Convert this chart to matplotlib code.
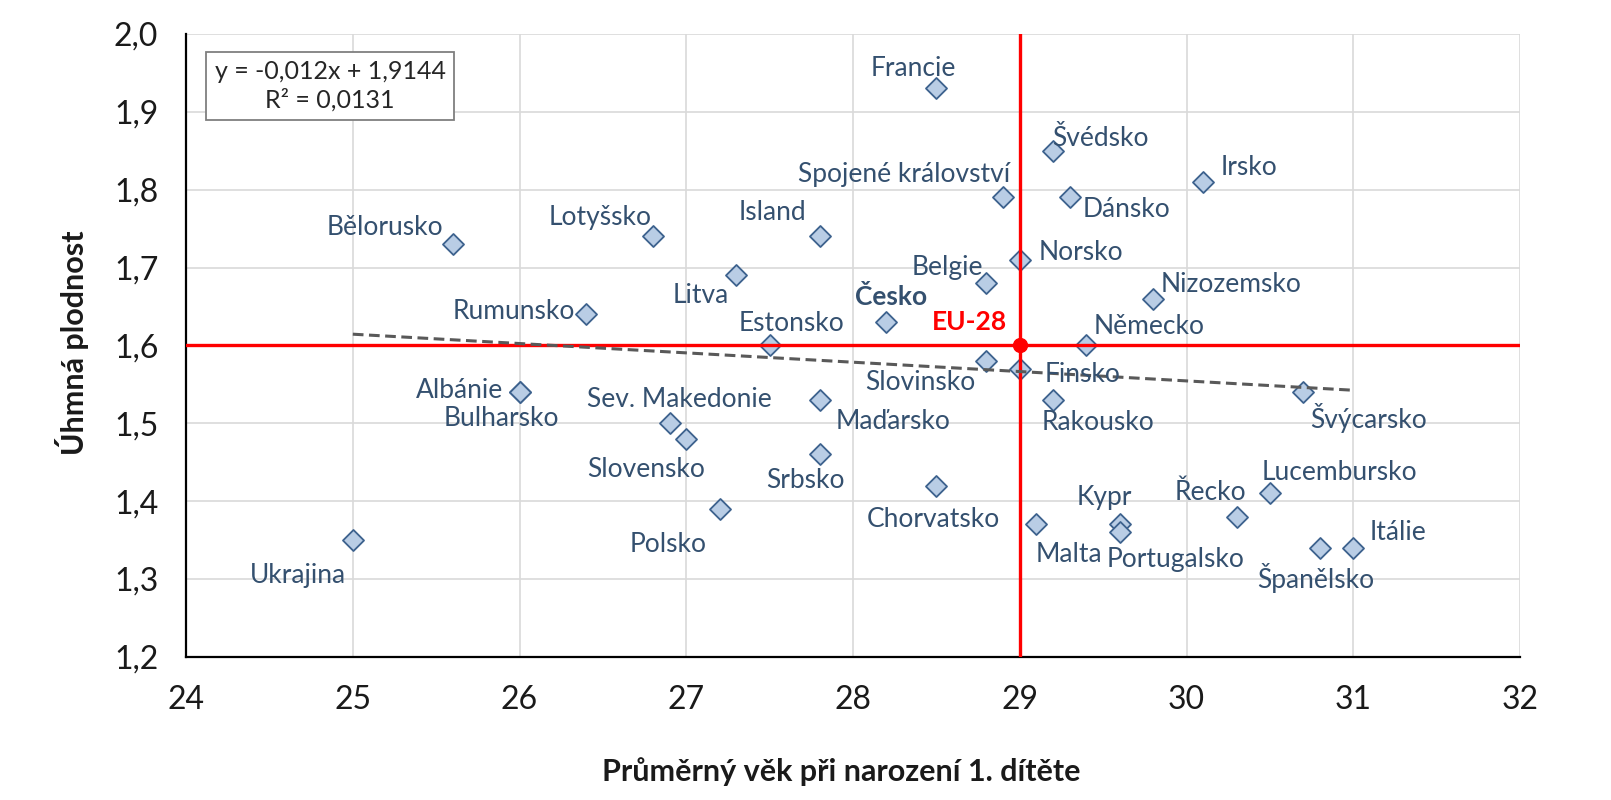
import matplotlib.pyplot as plt
import numpy as np

plt.rcParams['font.family'] = ['Lato', 'DejaVu Sans']

# prumerny vek matky pri narozeni 1. ditete, uhrnna plodnost
countries = ['Francie', 'Švédsko', 'Irsko', 'Spojené království', 'Dánsko',
             'Bělorusko', 'Lotyšsko', 'Island', 'Litva', 'Norsko', 'Belgie',
             'Nizozemsko', 'Rumunsko', 'Česko', 'Estonsko', 'Německo',
             'Slovinsko', 'Finsko', 'Švýcarsko', 'Albánie', 'Bulharsko',
             'Rakousko', 'Sev. Makedonie', 'Slovensko', 'Maďarsko', 'Srbsko',
             'Polsko', 'Chorvatsko', 'Malta', 'Kypr', 'Portugalsko', 'Řecko',
             'Lucembursko', 'Španělsko', 'Itálie', 'Ukrajina']
age = [28.5, 29.2, 30.1, 28.9, 29.3,
       25.6, 26.8, 27.8, 27.3, 29.0, 28.8,
       29.8, 26.4, 28.2, 27.5, 29.4,
       28.8, 29.0, 30.7, 26.0, 26.0,
       29.2, 26.9, 27.0, 27.8, 27.8,
       27.2, 28.5, 29.1, 29.6, 29.6, 30.3,
       30.5, 30.8, 31.0, 25.0]
tfr = [1.93, 1.85, 1.81, 1.79, 1.79,
       1.73, 1.74, 1.74, 1.69, 1.71, 1.68,
       1.66, 1.64, 1.63, 1.60, 1.60,
       1.58, 1.57, 1.54, 1.54, 1.54,
       1.53, 1.50, 1.48, 1.53, 1.46,
       1.39, 1.42, 1.37, 1.37, 1.36, 1.38,
       1.41, 1.34, 1.34, 1.35]

eu_label = 'EU-28'
eu_age = 29.0
eu_tfr = 1.60

# linearni trend (z Excelu)
slope = -0.012
intercept = 1.9144
r2 = 0.0131

# posun popisku v pixelech (dx, dy)
label_offsets = [(-23, 20), (47, 12), (46, 14), (-99, 23), (57, -12),
                 (-68, 17), (-53, 19), (-47, 24), (-36, -20), (61, 7), (-39, 16),
                 (78, 14), (-72, 3), (5, 25), (22, 22), (63, 19),
                 (-66, -22), (63, -6), (65, -26), (-60, 2), (-18, -26),
                 (45, -23), (10, 24), (-40, -31), (73, -22), (-14, -26),
                 (-52, -36), (-3, -34), (33, -30), (-15, 27), (56, -27), (-26, 24),
                 (70, 21), (-4, -30), (45, 15), (-55, -35)]

label_color = '#34506f'

fig = plt.figure(figsize=(16.11, 8), dpi=100)
ax = fig.add_axes([0.1155, 0.179, 0.828, 0.7785])

ax.set_xlim(24, 32)
ax.set_ylim(1.2, 2.0)
ax.set_xticks(np.arange(24, 33, 1))
ax.set_yticks(np.arange(1.2, 2.01, 0.1))
ax.set_yticklabels([f'{v:.1f}'.replace('.', ',') for v in np.arange(1.2, 2.01, 0.1)])
ax.tick_params(axis='both', length=0, labelsize=23, colors='#1a1a1a')
ax.tick_params(axis='y', pad=20)
ax.tick_params(axis='x', pad=20)
ax.grid(True, color='#d9d9d9', linewidth=1.2, zorder=0)
ax.set_axisbelow(True)
for side in ['top', 'right']:
    ax.spines[side].set_visible(False)
for side in ['left', 'bottom']:
    ax.spines[side].set_linewidth(1.6)
    ax.spines[side].set_color('black')

ax.scatter(age, tfr, marker='D', s=115, facecolor='#b9cde5', edgecolor='#3d628e',
           linewidth=1.3, zorder=3)

# EU-28 kriz
ax.axvline(eu_age, color='#ff0000', linewidth=2.4, zorder=4)
ax.axhline(eu_tfr, color='#ff0000', linewidth=2.4, zorder=4)
ax.plot([eu_age], [eu_tfr], 'o', color='#ff0000', markersize=10, zorder=5)

# trend
xt = np.array([min(age), max(age)])
ax.plot(xt, slope * xt + intercept, '--', color='#595959', linewidth=2.2,
        dashes=(3.5, 1.8), zorder=6)

for name, x, y, off in zip(countries, age, tfr, label_offsets):
    weight = 'bold' if name == 'Česko' else 'normal'
    ax.annotate(name, (x, y), xytext=off, textcoords='offset pixels',
                ha='center', va='center', fontsize=19, color=label_color,
                fontweight=weight, zorder=7)

ax.annotate(eu_label, (eu_age, eu_tfr), xytext=(-50, 23), textcoords='offset pixels',
            ha='center', va='center', fontsize=19, color='#ff0000',
            fontweight='bold', zorder=7)

eq = f'y = {slope:.3f}x + {intercept:.4f}'.replace('.', ',') + '\n' + \
     f'R² = {r2:.4f}'.replace('.', ',')
ax.text(0.108, 0.9165, eq, transform=ax.transAxes, ha='center', va='center',
        fontsize=18, color='#262626', linespacing=1.25, zorder=8,
        bbox=dict(boxstyle='square,pad=0.35', facecolor='white',
                  edgecolor='#7f7f7f', linewidth=1.3))

fig.text(0.522, 0.035, 'Průměrný věk při narození 1. dítěte', ha='center', va='center',
         fontsize=22, fontweight='bold', color='#1a1a1a')
fig.text(0.0447, 0.572, 'Úhmná plodnost', ha='center', va='center', rotation=90,
         fontsize=22, fontweight='bold', color='#1a1a1a')

fig.savefig('out.png', dpi=100)
